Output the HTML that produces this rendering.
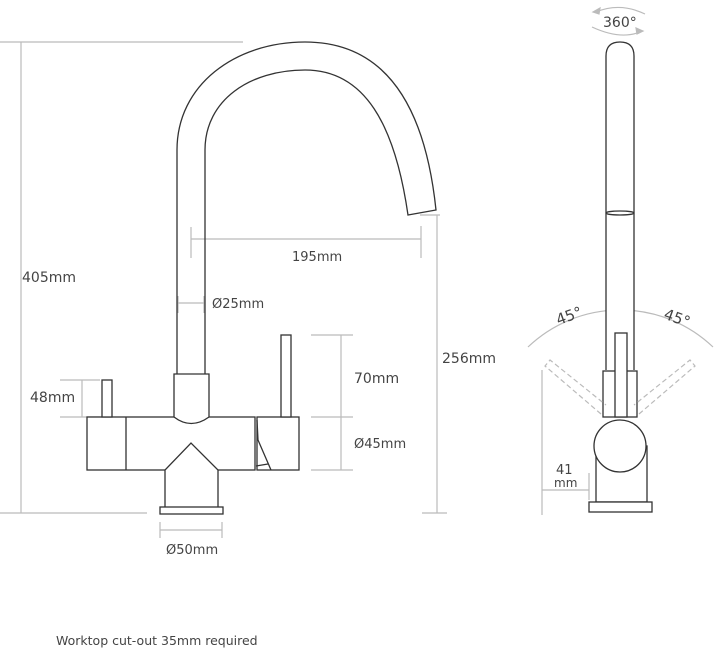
<!DOCTYPE html>
<html><head><meta charset="utf-8"><style>
html,body{margin:0;padding:0;background:#fff;}
svg{display:block;}
text{font-family:"DejaVu Sans","Liberation Sans",sans-serif;fill:#444;}
</style></head><body>
<svg width="720" height="650" viewBox="0 0 720 650" xmlns="http://www.w3.org/2000/svg">
<g stroke="#bbb" stroke-width="1.2" fill="none">
  <line x1="0" y1="42" x2="243" y2="42"/>
  <line x1="21" y1="42" x2="21" y2="513"/>
  <line x1="0" y1="513" x2="147" y2="513"/>
  <line x1="60" y1="380" x2="100" y2="380"/>
  <line x1="60" y1="417" x2="100" y2="417"/>
  <line x1="82" y1="380" x2="82" y2="417"/>
  <line x1="191" y1="227" x2="191" y2="258"/>
  <line x1="191" y1="239" x2="421" y2="239"/>
  <line x1="421" y1="226" x2="421" y2="258"/>
  <line x1="178" y1="296" x2="178" y2="313"/>
  <line x1="178" y1="303" x2="204" y2="303"/>
  <line x1="204" y1="296" x2="204" y2="313"/>
  <line x1="311" y1="335" x2="353" y2="335"/>
  <line x1="311" y1="417" x2="353" y2="417"/>
  <line x1="311" y1="470" x2="353" y2="470"/>
  <line x1="341" y1="335" x2="341" y2="470"/>
  <line x1="420" y1="215" x2="440" y2="215"/>
  <line x1="437" y1="215" x2="437" y2="513"/>
  <line x1="422" y1="513" x2="447" y2="513"/>
  <line x1="160" y1="522" x2="160" y2="538"/>
  <line x1="160" y1="530" x2="222" y2="530"/>
  <line x1="222" y1="522" x2="222" y2="538"/>
  <path d="M528,347 A134,134 0 0 1 713,347"/>
  <line x1="620" y1="290" x2="620" y2="325"/>
  <line x1="542" y1="370" x2="542" y2="515"/>
  <line x1="542" y1="490" x2="589" y2="490"/>
  <line x1="589" y1="473" x2="589" y2="500"/>
  <path d="M596,12 Q620,2 645,14"/>
  <path d="M592,27 Q620,40 640,32"/>
</g>
<g stroke="#bbb" stroke-width="1.2" fill="#bbb">
  <path d="M593,12 l7,-4 l-1,6z"/>
  <path d="M643,31 l-7,-3 l1,6z"/>
</g>
<g stroke="#333" stroke-width="1.3" fill="#fff">
  <path fill="none" d="M177,375 L177,150 C177,85 235,42 305,42 C385,42 425,105 436,210 L408,215 C395,125 365,70 305,70 C250,70 205,100 205,150 L205,375" />
  <rect x="87" y="417" width="168" height="53"/>
  <line x1="126" y1="417" x2="126" y2="470"/>
  <rect x="102" y="380" width="10" height="37"/>
  <path d="M174,417 L174,374 L209,374 L209,417 Q191,430 174,417Z"/>
  <path d="M165,507 L165,470 L191,443 L218,470 L218,507"/>
  <rect x="160" y="507" width="63" height="7"/>
  <rect x="257" y="417" width="42" height="53"/>
  <rect x="281" y="335" width="10" height="82"/>
  <polyline points="257,420 258,440 271,470" fill="none"/>
  <line x1="256" y1="466" x2="268" y2="464"/>
  <path d="M606,370 L606,56 Q606,42 620,42 Q634,42 634,56 L634,370"/>
  <ellipse cx="620" cy="213" rx="14" ry="2" fill="none"/>
  <rect x="603" y="371" width="34" height="46"/>
  <rect x="615" y="333" width="12" height="84"/>
  <rect x="596" y="446" width="51" height="56"/>
  <rect x="589" y="502" width="63" height="10"/>
  <circle cx="620" cy="446" r="26"/>
</g>
<g stroke="#bbb" stroke-width="1.2" fill="none" stroke-dasharray="5,3">
  <polyline points="601,414 545,366 550,360 606,405"/>
  <polyline points="639,414 695,366 690,360 634,405"/>
</g>
<g font-size="14">
  <text x="22" y="282">405mm</text>
  <text x="30" y="402">48mm</text>
  <text x="292" y="261" font-size="13">195mm</text>
  <text x="212" y="308" font-size="13">Ø25mm</text>
  <text x="354" y="383">70mm</text>
  <text x="354" y="448" font-size="13">Ø45mm</text>
  <text x="442" y="363">256mm</text>
  <text x="166" y="554" font-size="13">Ø50mm</text>
  <text x="556" y="474" font-size="13">41</text>
  <text x="554" y="487" font-size="12">mm</text>
  <text x="603" y="27" font-size="14">360°</text>
  <text x="556" y="322" font-size="15" transform="rotate(-20 566 317)">45°</text>
  <text x="664" y="322" font-size="15" transform="rotate(20 674 317)">45°</text>
  <text x="56" y="645" font-size="12.5">Worktop cut-out 35mm required</text>
</g>
</svg>
</body></html>
